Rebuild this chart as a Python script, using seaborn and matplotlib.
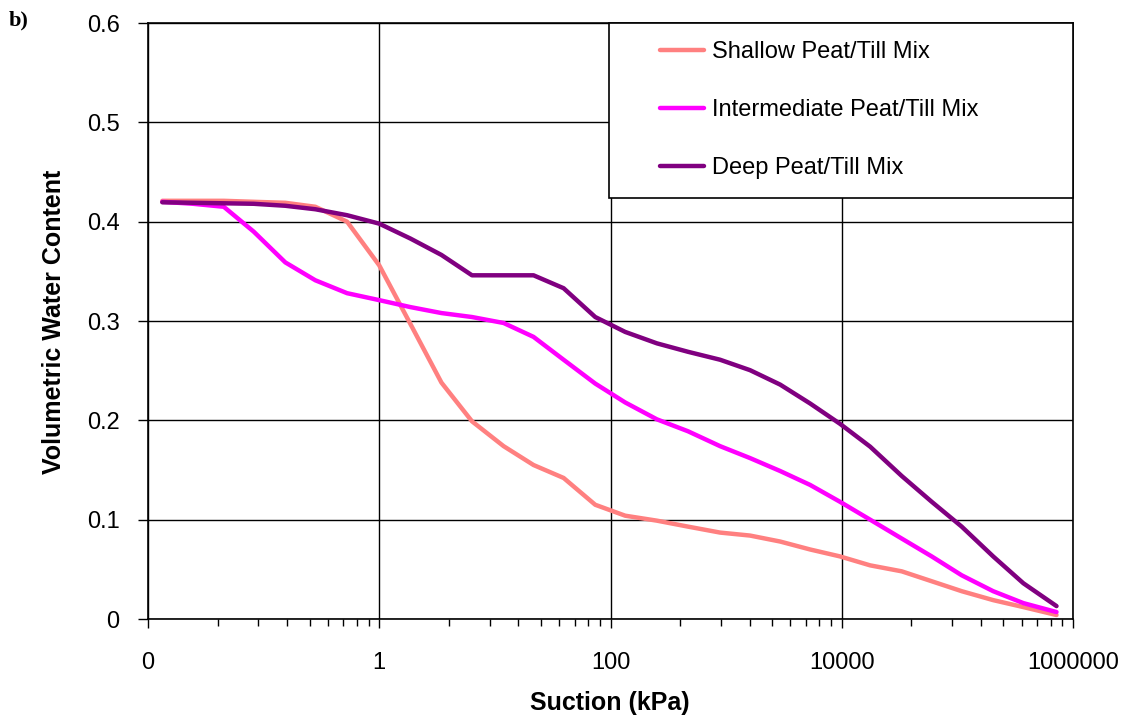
import numpy as np
import pandas as pd
import matplotlib
matplotlib.use("Agg")
import matplotlib.pyplot as plt
import seaborn as sns
from matplotlib.ticker import FixedLocator, FixedFormatter, NullFormatter
from matplotlib.patches import Rectangle
from matplotlib.lines import Line2D

# ---------------- data ----------------
suction = [0.0133, 0.0245, 0.0452, 0.082, 0.154, 0.28, 0.527, 1.0, 1.86, 3.45,
           6.34, 11.9, 21.6, 39.3, 73.8, 134, 252, 468, 887, 1610,
           2930, 5320, 9660, 17600, 33000, 60000, 109000, 204000, 372000, 720000]

shallow = [0.421, 0.421, 0.421, 0.420, 0.419, 0.415, 0.400, 0.356, 0.297, 0.238,
           0.199, 0.174, 0.155, 0.142, 0.115, 0.104, 0.099, 0.093, 0.087, 0.084,
           0.078, 0.070, 0.063, 0.054, 0.048, 0.038, 0.028, 0.019, 0.012, 0.004]

intermediate = [0.420, 0.418, 0.415, 0.390, 0.359, 0.341, 0.328, 0.321, 0.314, 0.308,
                0.304, 0.298, 0.284, 0.261, 0.237, 0.218, 0.201, 0.189, 0.174, 0.162,
                0.149, 0.135, 0.118, 0.100, 0.081, 0.063, 0.044, 0.028, 0.016, 0.007]

deep = [0.4195, 0.419, 0.4185, 0.418, 0.416, 0.4125, 0.4065, 0.398, 0.383, 0.3665,
        0.346, 0.346, 0.346, 0.333, 0.304, 0.289, 0.2775, 0.269, 0.261, 0.2505,
        0.236, 0.217, 0.1965, 0.1735, 0.144, 0.118, 0.093, 0.063, 0.036, 0.013]

series_names = ["Shallow Peat/Till Mix", "Intermediate Peat/Till Mix", "Deep Peat/Till Mix"]
series_values = [shallow, intermediate, deep]
series_colors = ["#FF8080", "#FF00FF", "#800080"]

x_ticks = [0.01, 1, 100, 10000, 1000000]
x_tick_labels = ["0", "1", "100", "10000", "1000000"]
y_ticks = [0, 0.1, 0.2, 0.3, 0.4, 0.5, 0.6]
y_tick_labels = ["0", "0.1", "0.2", "0.3", "0.4", "0.5", "0.6"]

x_label = "Suction (kPa)"
y_label = "Volumetric Water Content"
panel_label = "b)"

# ---------------- build long table ----------------
frames = []
for name, vals in zip(series_names, series_values):
    frames.append(pd.DataFrame({"suction": suction, "vwc": vals, "series": name}))
df = pd.concat(frames, ignore_index=True)

# ---------------- style ----------------
sns.set_theme(style="white")
plt.rcParams["font.family"] = ["Liberation Sans", "DejaVu Sans"]
plt.rcParams["text.color"] = "black"

W, H = 1135, 721
fig = plt.figure(figsize=(W / 100, H / 100), dpi=100)
L, R, T, B = 148, 1073, 23, 619
ax = fig.add_axes([L / W, 1 - B / H, (R - L) / W, (B - T) / H])

LW = 3.2
sns.lineplot(data=df, x="suction", y="vwc", hue="series", hue_order=series_names,
             palette=dict(zip(series_names, series_colors)), linewidth=LW,
             estimator=None, sort=False, ax=ax, legend=False)

ax.set_xscale("log")
ax.set_xlim(0.01, 1000000)
ax.set_ylim(0, 0.6)

ax.xaxis.set_major_locator(FixedLocator(x_ticks))
ax.xaxis.set_major_formatter(FixedFormatter(x_tick_labels))
minor = []
for base in x_ticks[:-1]:
    for j in range(2, 10):
        minor.append(base * j ** 2)
ax.xaxis.set_minor_locator(FixedLocator(minor))
ax.xaxis.set_minor_formatter(NullFormatter())
ax.yaxis.set_major_locator(FixedLocator(y_ticks))
ax.yaxis.set_major_formatter(FixedFormatter(y_tick_labels))

ax.tick_params(axis="x", which="major", direction="out", length=6.5, width=1.0,
               color="black", labelsize=17, pad=17, labelcolor="black", bottom=True)
ax.tick_params(axis="x", which="minor", direction="out", length=5, width=1.0,
               color="black", bottom=True)
ax.tick_params(axis="y", which="major", direction="out", length=7.5, width=1.0,
               color="black", labelsize=17, pad=13, labelcolor="black", left=True)

ax.grid(True, which="major", color="black", linewidth=1.0)
ax.set_axisbelow(True)
for s in ax.spines.values():
    s.set_color("black")
    s.set_linewidth(1.2)

ax.set_xlabel(x_label, fontsize=18, fontweight="bold", color="black")
ax.set_ylabel(y_label, fontsize=18, fontweight="bold", color="black")
ax.xaxis.set_label_coords((610 - L) / (R - L), (B - 691) / (B - T))
ax.yaxis.set_label_coords((66 - L) / (R - L), (B - 322) / (B - T))

# legend box
lx0, ly0 = 609, 198
box = Rectangle(((lx0 - L) / (R - L), (B - ly0) / (B - T)), (R - lx0) / (R - L),
                (ly0 - T) / (B - T), transform=ax.transAxes, facecolor="white",
                edgecolor="black", linewidth=1.2, zorder=4, clip_on=False)
ax.add_patch(box)
handles = [Line2D([], [], color=c, linewidth=LW) for c in series_colors]
leg = ax.legend(handles, series_names, loc="upper left",
                bbox_to_anchor=((660 - L) / (R - L), (B - 41) / (B - T)),
                frameon=False, fontsize=17, handlelength=1.86, handletextpad=0.33,
                labelspacing=1.52, borderpad=0, borderaxespad=0, labelcolor="black")
leg.set_zorder(6)

fig.text(9 / W, 1 - 10 / H, panel_label, fontsize=16, fontweight="bold",
         family=["Liberation Serif", "DejaVu Serif"], va="top", ha="left", color="black")

fig.savefig("out.png", dpi=100, facecolor="white")
